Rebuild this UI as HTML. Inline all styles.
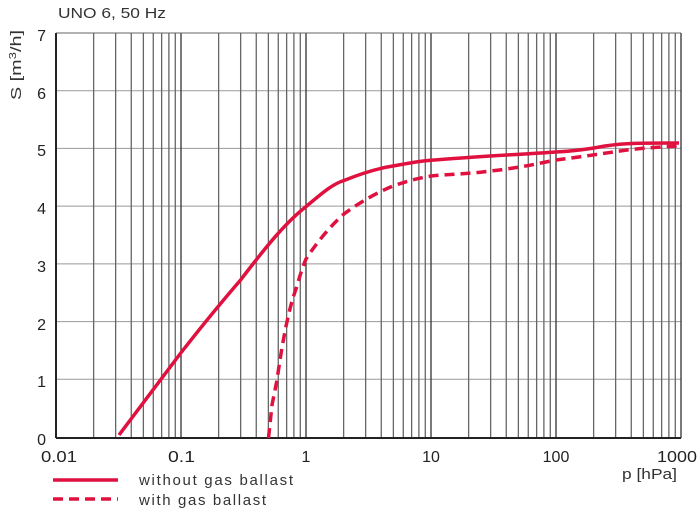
<!DOCTYPE html>
<html><head><meta charset="utf-8"><style>
html,body{margin:0;padding:0;background:#fff;}
svg{display:block;font-family:"Liberation Sans",Arial,sans-serif;}
</style></head><body>
<svg width="698" height="510" viewBox="0 0 698 510" xmlns="http://www.w3.org/2000/svg">
<g id="hgrid" stroke="#999" stroke-width="1">
<line x1="56" x2="681" y1="90.7" y2="90.7"/>
<line x1="56" x2="681" y1="148.4" y2="148.4"/>
<line x1="56" x2="681" y1="206.1" y2="206.1"/>
<line x1="56" x2="681" y1="263.9" y2="263.9"/>
<line x1="56" x2="681" y1="321.6" y2="321.6"/>
<line x1="56" x2="681" y1="379.3" y2="379.3"/>
</g>
<g id="vgrid" stroke="#666" stroke-width="1.3"></g>
<line x1="56" x2="681" y1="33" y2="33" stroke="#666" stroke-width="1"/>
<line x1="56" x2="56" y1="33" y2="438" stroke="#222" stroke-width="2"/>
<line x1="56" x2="681" y1="438" y2="438" stroke="#222" stroke-width="2"/>
<path d="M119,435 L180,354 C205,322 225,298 240.6,280 C265,248 285,223 306,206.6 C320,195 332,184 344,180.5 C365,172 380,168 393,166 C410,163 420,161 431,160.3 C470,157 510,155 556,152 C575,151 590,149 605,146 C625,143 640,143 679,143" fill="none" stroke="#e0103f" stroke-width="3.5"/>
<path d="M268.5,438 L272,405 L277,380 C282,345 288,310 296.7,287 C300,275 303,266 306,259 C315,245 330,226 344,214 C360,202 378,192 393,186 C410,180 420,178 431,176 C450,174 470,174 490,171 C520,168 540,163 556,160 C580,157 600,154 620,151 C640,148 660,147 679,146" fill="none" stroke="#e0103f" stroke-width="3.5" stroke-dasharray="10,6"/>
<g font-size="16" fill="#222">
<text x="46" y="41" text-anchor="end">7</text>
<text x="46" y="99" text-anchor="end">6</text>
<text x="46" y="156" text-anchor="end">5</text>
<text x="46" y="214" text-anchor="end">4</text>
<text x="46" y="272" text-anchor="end">3</text>
<text x="46" y="330" text-anchor="end">2</text>
<text x="46" y="387" text-anchor="end">1</text>
<text x="46" y="445" text-anchor="end">0</text>
<text x="41" y="462" textLength="36" lengthAdjust="spacingAndGlyphs">0.01</text>
<text x="168" y="462" textLength="27" lengthAdjust="spacingAndGlyphs">0.1</text>
<text x="306" y="462" text-anchor="middle">1</text>
<text x="431" y="462" text-anchor="middle">10</text>
<text x="556" y="462" text-anchor="middle">100</text>
<text x="657" y="462" textLength="40" lengthAdjust="spacingAndGlyphs">1000</text>
</g>
<g font-size="15" fill="#333">
<text x="58" y="18" textLength="108" lengthAdjust="spacingAndGlyphs">UNO 6, 50 Hz</text>
<text x="622" y="479" textLength="55" lengthAdjust="spacingAndGlyphs">p [hPa]</text>
<text transform="translate(21,100) rotate(-90)" textLength="70" lengthAdjust="spacingAndGlyphs">S [m<tspan font-size="10" dy="-5">3</tspan><tspan dy="5">/h]</tspan></text>
<text x="139" y="485" textLength="154" lengthAdjust="spacing">without gas ballast</text>
<text x="139" y="505" textLength="127" lengthAdjust="spacing">with gas ballast</text>
</g>
<line x1="53" x2="118" y1="480" y2="480" stroke="#e0103f" stroke-width="3.5"/>
<line x1="53" x2="118" y1="499" y2="499" stroke="#e0103f" stroke-width="3.5" stroke-dasharray="10,6"/>
<script>
var g=document.getElementById('vgrid');
for(var d=0;d<5;d++){for(var m=1;m<=9;m++){if(d==0&&m==1)continue;
var x=56+125*(d+Math.log10(m));var l=document.createElementNS('http://www.w3.org/2000/svg','line');
l.setAttribute('x1',x);l.setAttribute('x2',x);l.setAttribute('y1',33);l.setAttribute('y2',438);
if(m==1){l.setAttribute('stroke','#333');}
g.appendChild(l);}}
var l=document.createElementNS('http://www.w3.org/2000/svg','line');
l.setAttribute('x1',681);l.setAttribute('x2',681);l.setAttribute('y1',33);l.setAttribute('y2',438);l.setAttribute('stroke','#333');g.appendChild(l);
</script>
</svg>
</body></html>
